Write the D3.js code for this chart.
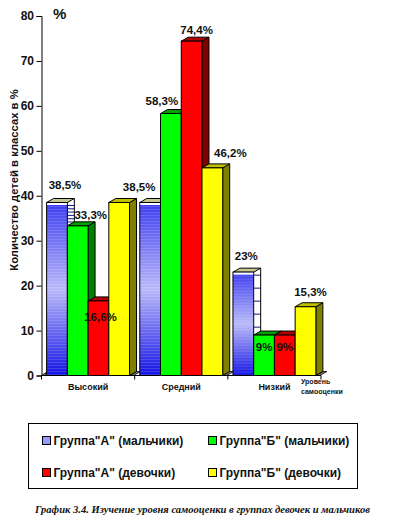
<!DOCTYPE html>
<html>
<head>
<meta charset="utf-8">
<script src="https://cdn.jsdelivr.net/npm/d3@7"></script>
<style>
  html, body { margin: 0; padding: 0; background: #fff; }
  text { font-family: "Liberation Sans", Arial, sans-serif; fill: #111; }
</style>
</head>
<body>
<div id="chart"></div>
<script>
// Chart data
const categories = ['Высокий', 'Средний', 'Низкий'];
const seriesNames = ['Группа"А" (мальчики)', 'Группа"Б" (мальчики)', 'Группа"А" (девочки)', 'Группа"Б" (девочки)'];
const boysA = [38.5, 38.5, 23];
const boysB = [33.3, 58.3, 9];
const girlsA = [16.6, 74.4, 9];
const girlsB = [38.5, 46.2, 15.3];
// The picture prints only one label for the two neighbouring 38,5% bars
const valueLabels = [
  ['38,5%', '', '23%'],
  ['33,3%', '58,3%', '9%'],
  ['16,6%', '74,4%', '9%'],
  ['38,5%', '46,2%', '15,3%']
];
const yTicks = [0, 10, 20, 30, 40, 50, 60, 70, 80];

const seriesValues = [boysA, boysB, girlsA, girlsB];

// Front, top and side colours for each series
const faceColors = ['url(#blueFade)', '#00ff00', '#ff0000', '#ffff00'];
const topColors = ['#c9c98f', '#00a000', '#b00000', '#c0c000'];
const sideColors = ['#ffffff', '#008000', '#800000', '#808000'];
const legendColors = ['#9999ff', '#00ff00', '#ff0000', '#ffff00'];

const width = 394;
const height = 525;
const depthX = 7;
const depthY = 4;

const svg = d3.select('#chart')
  .append('svg')
  .attr('width', width)
  .attr('height', height)
  .style('display', 'block');

// Gradient for the blue bars
const grad = svg.append('defs').append('linearGradient')
  .attr('id', 'blueFade')
  .attr('x1', 0).attr('y1', 0).attr('x2', 0).attr('y2', 1);
grad.append('stop').attr('offset', '0%').attr('stop-color', '#3c3cf0');
grad.append('stop').attr('offset', '50%').attr('stop-color', '#b9b9fa');
grad.append('stop').attr('offset', '100%').attr('stop-color', '#1414e6');

// Scales
const x = d3.scaleBand()
  .domain(categories)
  .range([41.5, 321])
  .paddingInner(0.11)
  .paddingOuter(0.055);

const xInner = d3.scaleBand()
  .domain(d3.range(seriesNames.length))
  .range([0, x.bandwidth()]);

const y = d3.scaleLinear()
  .domain([0, 80])
  .range([375.5, 16]);

// Floor pieces showing in the gaps between groups
svg.selectAll('.floor')
  .data(categories)
  .enter()
  .append('path')
  .attr('class', 'floor')
  .attr('d', d => {
    const x0 = x(d) + x.bandwidth();
    const b = y(0);
    return `M${x0},${b}L${x0 + depthX},${b - depthY}L${x0 + depthX + 4},${b - depthY}L${x0 + 4},${b}Z`;
  })
  .attr('fill', '#808080')
  .attr('stroke', '#000')
  .attr('stroke-width', 0.8);

svg.append('path')
  .attr('d', `M41.5,${y(0)}L46,${y(0) - 3}L46,${y(0)}Z`)
  .attr('fill', '#808080')
  .attr('stroke', '#000')
  .attr('stroke-width', 0.8);

// Spacing of the navy bands on the open side of the blue bars
const bandStep = [3.3, 3.3, 13];

// Bars, drawn series by series so that the later ones cover side faces
seriesNames.forEach((name, s) => {
  const g = svg.append('g').attr('class', 'series');
  const w = xInner.bandwidth();

  categories.forEach((cat, c) => {
    const v = seriesValues[s][c];
    const left = x(cat) + xInner(s);
    const top = y(v);
    const bottom = y(0);

    // Side face
    g.append('path')
      .attr('d', `M${left + w},${top}L${left + w + depthX},${top - depthY}L${left + w + depthX},${bottom - depthY}L${left + w},${bottom}Z`)
      .attr('fill', sideColors[s])
      .attr('stroke', s === 0 ? 'none' : '#000')
      .attr('stroke-width', 1);

    // The blue bars have a see-through side with navy bands
    if (s === 0) {
      g.selectAll(null)
        .data(d3.range(top + 3, bottom, bandStep[c]))
        .enter()
        .append('line')
        .attr('x1', left + w)
        .attr('x2', left + w + depthX)
        .attr('y1', d => d)
        .attr('y2', d => d)
        .attr('stroke', '#1a1a80')
        .attr('stroke-width', 1);
      g.append('line')
        .attr('x1', left + w + depthX)
        .attr('x2', left + w + depthX)
        .attr('y1', top - depthY)
        .attr('y2', bottom - depthY)
        .attr('stroke', '#000')
        .attr('stroke-width', 1);
    }

    // Top face
    g.append('path')
      .attr('d', `M${left},${top}L${left + depthX},${top - depthY}L${left + w + depthX},${top - depthY}L${left + w},${top}Z`)
      .attr('fill', topColors[s])
      .attr('stroke', '#000')
      .attr('stroke-width', 1);

    // Front face
    g.append('rect')
      .attr('x', left)
      .attr('y', top)
      .attr('width', w)
      .attr('height', bottom - top)
      .attr('fill', faceColors[s])
      .attr('stroke', '#000')
      .attr('stroke-width', 1);

    if (s === 0) {
      // White strip under the top edge of the blue bars
      g.append('rect')
        .attr('x', left + 0.5)
        .attr('y', top + 0.5)
        .attr('width', w - 1)
        .attr('height', 2)
        .attr('fill', '#fff');

      // Light stripes over the blue gradient
      g.selectAll(null)
        .data(d3.range(top + 4, bottom, 3))
        .enter()
        .append('line')
        .attr('x1', left + 0.5)
        .attr('x2', left + w - 0.5)
        .attr('y1', d => d)
        .attr('y2', d => d)
        .attr('stroke', '#ffffff')
        .attr('stroke-opacity', 0.14);
    }
  });
});

// Axes
const yAxis = d3.axisLeft(y)
  .tickValues(yTicks)
  .tickSize(5)
  .tickPadding(2.5);

const yAxisG = svg.append('g')
  .attr('transform', 'translate(41.5,0)')
  .call(yAxis);
yAxisG.selectAll('text')
  .style('font-size', '12px')
  .style('font-weight', 'bold');
yAxisG.selectAll('line, path').attr('stroke', '#000');

const xAxisG = svg.append('g')
  .attr('transform', `translate(0,${y(0)})`);
xAxisG.append('line')
  .attr('x1', 41.5)
  .attr('x2', 321)
  .attr('stroke', '#000');
xAxisG.selectAll('.tick')
  .data(d3.range(categories.length + 1))
  .enter()
  .append('line')
  .attr('class', 'tick')
  .attr('x1', i => 41.5 + i * x.step())
  .attr('x2', i => 41.5 + i * x.step())
  .attr('y1', 0)
  .attr('y2', 4)
  .attr('stroke', '#000');

// Category labels
xAxisG.selectAll('.cat')
  .data(categories)
  .enter()
  .append('text')
  .attr('class', 'cat')
  .attr('x', d => x(d) + x.bandwidth() / 2)
  .attr('y', 14.5)
  .attr('text-anchor', 'middle')
  .style('font-size', '9px')
  .style('font-weight', 'bold')
  .text(d => d);

// Axis name at the end of the x axis
const axisName = svg.append('text')
  .attr('x', 301)
  .attr('text-anchor', 'start')
  .style('font-size', '7px')
  .style('font-weight', 'bold');
axisName.append('tspan').attr('x', 301).attr('y', 384).text('Уровень');
axisName.append('tspan').attr('x', 301).attr('y', 394).text('самооценки');

// Y axis title and the percent mark
svg.append('text')
  .attr('text-anchor', 'middle')
  .attr('transform', 'translate(18,180) rotate(-90)')
  .style('font-size', '11.25px')
  .style('font-weight', 'bold')
  .text('Количество детей в классах в %');

svg.append('text')
  .attr('x', 53)
  .attr('y', 18.5)
  .style('font-size', '15px')
  .style('font-weight', 'bold')
  .text('%');

// Value labels, nudged one by one the way they sit in the picture
const labelNudge = [
  [[8, -13.5], [0, -12], [3, -12]],
  [[13, -7], [-9, -9], [0, 16]],
  [[2, 20], [5, -7.5], [0, 16]],
  [[20, -11], [18, -11], [5, -11]]
];
seriesNames.forEach((name, s) => {
  categories.forEach((cat, c) => {
    if (!valueLabels[s][c]) return;
    svg.append('text')
      .attr('x', x(cat) + xInner(s) + xInner.bandwidth() / 2 + labelNudge[s][c][0])
      .attr('y', y(seriesValues[s][c]) + labelNudge[s][c][1])
      .attr('text-anchor', 'middle')
      .style('font-size', '11.5px')
      .style('font-weight', 'bold')
      .text(valueLabels[s][c]);
  });
});

// Legend
svg.append('rect')
  .attr('x', 28.5)
  .attr('y', 423.5)
  .attr('width', 329)
  .attr('height', 65)
  .attr('fill', '#fff')
  .attr('stroke', '#000');

const legendX = [42.5, 208.5];
const legendY = [436.5, 468.5];
seriesNames.forEach((name, s) => {
  const lx = legendX[s % 2];
  const ly = legendY[Math.floor(s / 2)];
  svg.append('rect')
    .attr('x', lx)
    .attr('y', ly)
    .attr('width', 8)
    .attr('height', 8)
    .attr('fill', legendColors[s])
    .attr('stroke', '#000');
  svg.append('text')
    .attr('x', lx + 11)
    .attr('y', ly + 8)
    .style('font-size', '12px')
    .style('font-weight', 'bold')
    .text(name);
});

// Caption
svg.append('text')
  .attr('x', 35)
  .attr('y', 513)
  .style('font-family', '"Liberation Serif", serif')
  .style('font-size', '10.55px')
  .style('font-weight', 'bold')
  .style('font-style', 'italic')
  .text('График 3.4. Изучение уровня самооценки в группах девочек и мальчиков');
</script>
</body>
</html>
